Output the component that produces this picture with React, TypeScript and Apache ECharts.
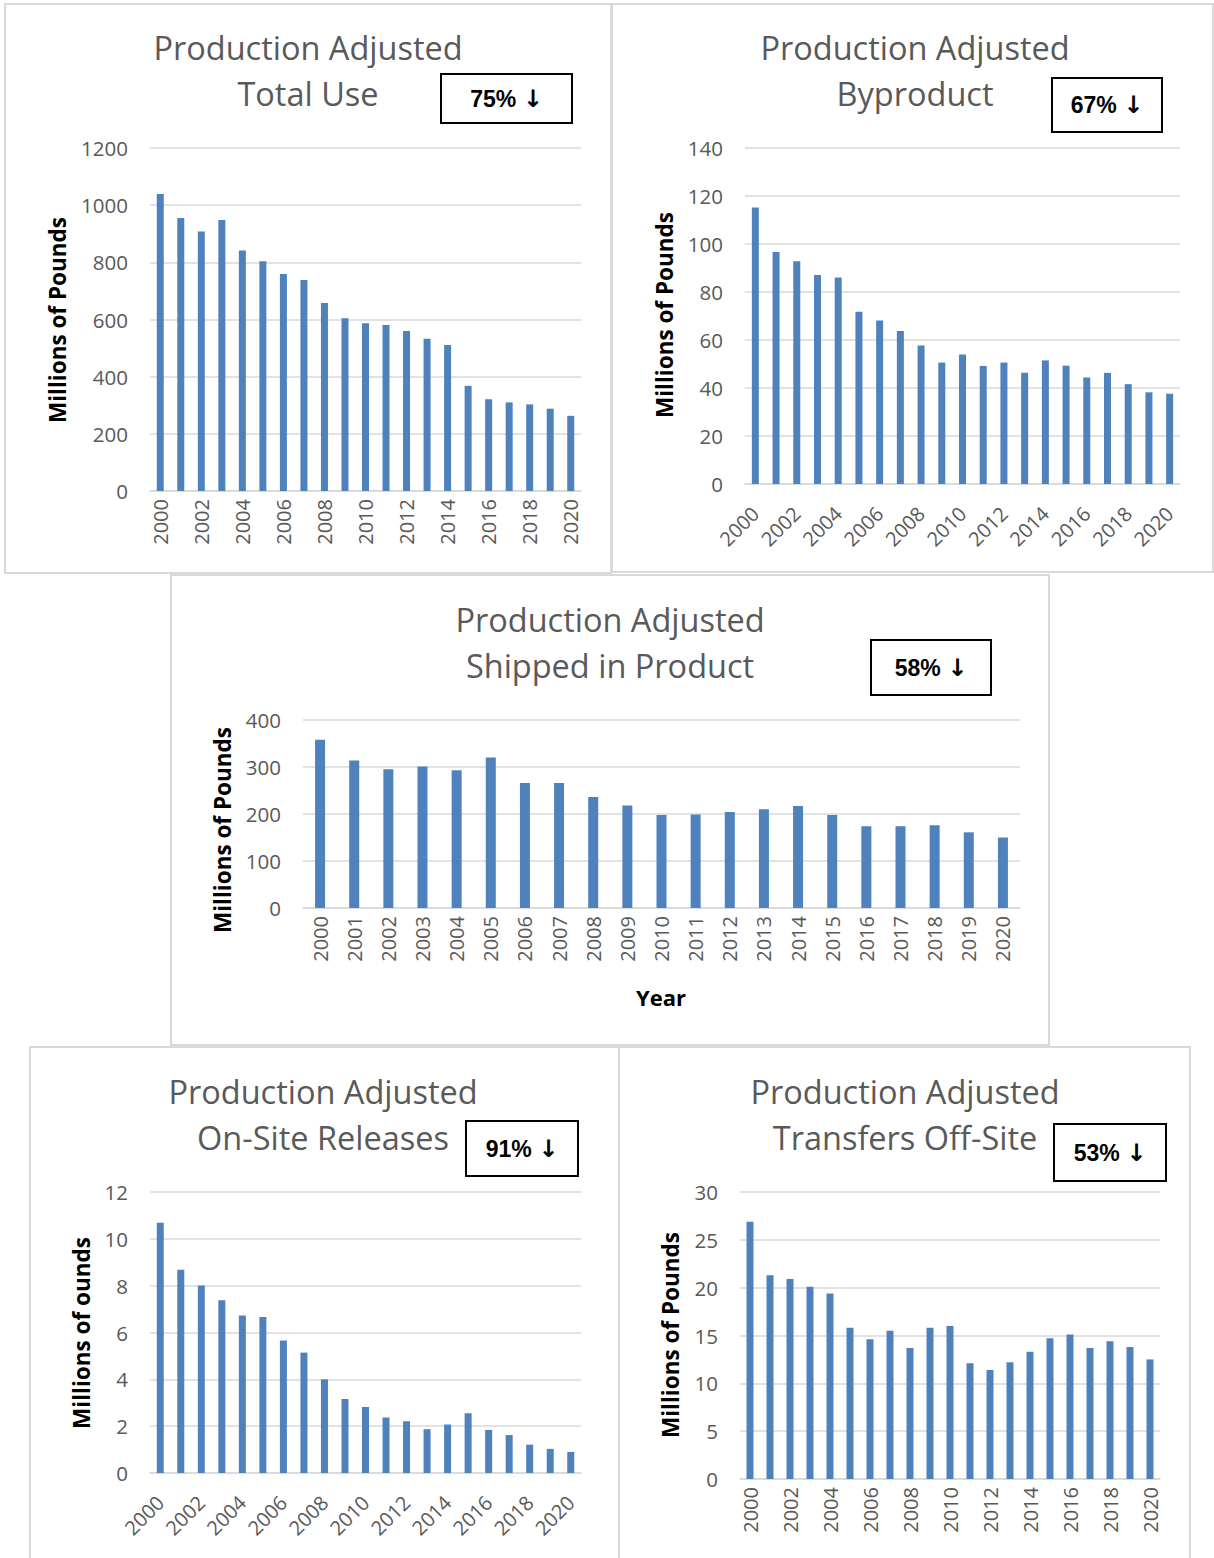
import React, { useEffect, useRef } from "react";
import * as echarts from "echarts";

// Reporting years shared by every panel
const years = [
  "2000", "2001", "2002", "2003", "2004", "2005", "2006", "2007", "2008", "2009", "2010",
  "2011", "2012", "2013", "2014", "2015", "2016", "2017", "2018", "2019", "2020",
];

// Production-adjusted quantities, millions of pounds
const totalUse = [1039, 955, 908, 948, 841, 804, 759, 738, 658, 604, 587, 581, 560, 533, 511, 368, 321, 310, 303, 288, 263];
const byproduct = [115.2, 96.7, 92.8, 87.1, 86.0, 71.8, 68.1, 63.7, 57.7, 50.6, 54.0, 49.2, 50.6, 46.4, 51.5, 49.3, 44.4, 46.3, 41.6, 38.2, 37.6];
const shippedInProduct = [358, 314, 295, 301, 293, 320, 266, 266, 236, 218, 198, 199, 204, 210, 217, 198, 174, 174, 176, 161, 150];
const onSiteReleases = [10.69, 8.68, 8.01, 7.38, 6.73, 6.66, 5.66, 5.14, 4.0, 3.16, 2.82, 2.37, 2.21, 1.87, 2.07, 2.55, 1.84, 1.62, 1.21, 1.03, 0.9];
const transfersOffSite = [26.9, 21.3, 20.9, 20.1, 19.4, 15.8, 14.6, 15.5, 13.7, 15.8, 16.0, 12.1, 11.4, 12.2, 13.3, 14.7, 15.1, 13.7, 14.4, 13.8, 12.5];

// Panel texts
const subtitles = ["Total Use", "Byproduct", "Shipped in Product", "On-Site Releases", "Transfers Off-Site"];
const reductions = ["75%", "67%", "58%", "91%", "53%"];
const yAxisNames = ["Millions of Pounds", "Millions of Pounds", "Millions of Pounds", "Millions of ounds", "Millions of Pounds"];
const yMax = [1200, 140, 400, 12, 30];
const yStep = [200, 20, 100, 2, 5];

const seriesValues = [totalUse, byproduct, shippedInProduct, onSiteReleases, transfersOffSite];

// Layout of each panel on the page
const layout = [
  { frame: [5, 4, 606, 569], grid: [150, 148, 431, 343], title: [308, 47], badge: [441, 74, 131, 49], yName: [57, 320], rotate: 90, interval: 1, bar: 7 },
  { frame: [612, 4, 601, 568], grid: [745, 148, 435, 336], title: [915, 47], badge: [1052, 78, 110, 54], yName: [664, 315], rotate: 45, interval: 1, bar: 7 },
  { frame: [171, 575, 878, 470], grid: [303, 720, 717, 188], title: [610, 619], badge: [871, 640, 120, 55], yName: [222, 830], rotate: 90, interval: 0, bar: 10 },
  { frame: [30, 1047, 589, 520], grid: [150, 1192, 431, 281], title: [323, 1091], badge: [466, 1121, 112, 55], yName: [81, 1333], rotate: 45, interval: 1, bar: 7 },
  { frame: [619, 1047, 571, 520], grid: [740, 1192, 420, 287], title: [905, 1091], badge: [1054, 1124, 112, 57], yName: [670, 1335], rotate: 90, interval: 1, bar: 7 },
];

const BAR = "#4f81bd";
const GRID_LINE = "#d9d9d9";
const TEXT = "#595959";
const FONT = "'Open Sans', 'Noto Sans', sans-serif";

export default function App() {
  const ref = useRef<HTMLDivElement>(null);

  useEffect(() => {
    if (!ref.current) return;
    const chart = echarts.init(ref.current, undefined, { renderer: "svg" });

    const grid: any[] = [];
    const xAxis: any[] = [];
    const yAxis: any[] = [];
    const series: any[] = [];
    const graphic: any[] = [];

    layout.forEach((p, i) => {
      const [gl, gt, gw, gh] = p.grid;
      grid.push({ left: gl, top: gt, width: gw, height: gh, containLabel: false });
      xAxis.push({
        type: "category",
        gridIndex: i,
        data: years,
        axisLine: { lineStyle: { color: GRID_LINE, width: 1.5 } },
        axisTick: { show: false },
        axisLabel: {
          interval: p.interval,
          rotate: p.rotate,
          margin: p.rotate === 45 ? 26 : 8,
          color: TEXT,
          fontSize: 20,
          fontFamily: FONT,
        },
      });
      yAxis.push({
        type: "value",
        gridIndex: i,
        min: 0,
        max: yMax[i],
        interval: yStep[i],
        axisLine: { show: false },
        axisTick: { show: false },
        splitLine: { lineStyle: { color: GRID_LINE, width: 1.5 } },
        axisLabel: {
          color: TEXT,
          fontSize: 20.5,
          fontFamily: FONT,
          margin: 22,
          formatter: (v: number) => String(v),
        },
      });
      series.push({
        type: "bar",
        xAxisIndex: i,
        yAxisIndex: i,
        data: seriesValues[i],
        barWidth: p.bar,
        itemStyle: { color: BAR },
      });

      const [fx, fy, fw, fh] = p.frame;
      graphic.push({
        type: "rect",
        shape: { x: fx, y: fy, width: fw, height: fh },
        style: { fill: "none", stroke: GRID_LINE, lineWidth: 2 },
        silent: true,
      });
      graphic.push({
        type: "text",
        x: p.title[0],
        y: p.title[1],
        style: { text: "Production Adjusted", align: "center", verticalAlign: "middle", fill: TEXT, fontSize: 32.5, fontFamily: FONT },
      });
      graphic.push({
        type: "text",
        x: p.title[0],
        y: p.title[1] + 46,
        style: { text: subtitles[i], align: "center", verticalAlign: "middle", fill: TEXT, fontSize: 32.5, fontFamily: FONT },
      });
      const [bx, by, bw, bh] = p.badge;
      graphic.push({
        type: "rect",
        shape: { x: bx, y: by, width: bw, height: bh },
        style: { fill: "#ffffff", stroke: "#000000", lineWidth: 2 },
      });
      graphic.push({
        type: "text",
        x: bx + bw / 2,
        y: by + bh / 2,
        style: {
          text: reductions[i] + " {arrow|\u2193}",
          align: "center",
          verticalAlign: "middle",
          fill: "#000000",
          fontSize: 23,
          fontWeight: "bold",
          fontFamily: "'Liberation Sans', Arial, sans-serif",
          rich: {
            arrow: {
              fill: "#000000",
              fontSize: 24,
              fontWeight: "bold",
              fontFamily: "'DejaVu Sans', sans-serif",
            },
          },
        },
      });
      graphic.push({
        type: "text",
        x: p.yName[0],
        y: p.yName[1],
        rotation: Math.PI / 2,
        style: {
          text: yAxisNames[i],
          align: "center",
          verticalAlign: "middle",
          fill: "#000000",
          fontSize: 22.5,
          fontWeight: "bold",
          fontFamily: FONT,
        },
      });
    });

    graphic.push({
      type: "text",
      x: 661,
      y: 997,
      style: { text: "Year", align: "center", verticalAlign: "middle", fill: "#000000", fontSize: 22, fontWeight: "bold", fontFamily: FONT },
    });

    chart.setOption({
      animation: false,
      backgroundColor: "#ffffff",
      grid,
      xAxis,
      yAxis,
      series,
      graphic,
    });

    return () => chart.dispose();
  }, []);

  return (
    <div
      ref={ref}
      style={{ position: "absolute", left: 0, top: 0, width: 1214, height: 1558, background: "#ffffff" }}
    />
  );
}
